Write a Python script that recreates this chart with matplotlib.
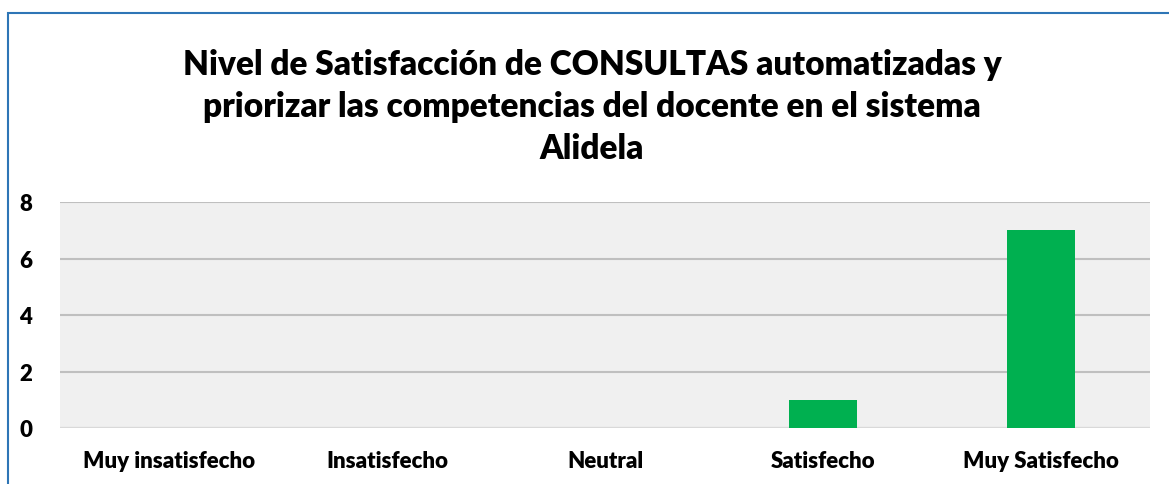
import matplotlib
matplotlib.use('Agg')
import matplotlib.pyplot as plt
import matplotlib.patheffects as pe
from matplotlib.patches import Rectangle

# Chart data
categories = ['Muy insatisfecho', 'Insatisfecho', 'Neutral', 'Satisfecho', 'Muy Satisfecho']
values = [0, 0, 0, 1, 7]
y_ticks = [0, 2, 4, 6, 8]
title = ('Nivel de Satisfacción de CONSULTAS automatizadas y\n'
         'priorizar las competencias del docente en el sistema\n'
         'Alidela')

plt.rcParams['font.family'] = ['Lato', 'DejaVu Sans']

fig = plt.figure(figsize=(11.69, 4.85), dpi=100)
fig.patch.set_facecolor('white')

# Outer chart border (blue, clipped by the image on right/bottom)
fig.add_artist(Rectangle((8 / 1169, -0.1), 1.2, 1 - 14 / 485 + 0.1,
                         transform=fig.transFigure, fill=False,
                         edgecolor='#2e75b6', linewidth=1.5))

ax = fig.add_axes([60 / 1169, 1 - 429 / 485, 1090 / 1169, 226 / 485])
ax.set_facecolor('#f0f0f0')

x = range(len(categories))
bars = ax.bar(x, values, width=0.31, color='#00b050', zorder=3)
for b in bars:
    b.set_path_effects([pe.SimplePatchShadow(offset=(0, -1), shadow_rgbFace='#777777', alpha=0.35),
                        pe.Normal()])

ax.set_xlim(-0.5, len(categories) - 0.5)
ax.set_ylim(0, 8)
ax.set_yticks(y_ticks)
ax.yaxis.grid(True, color='#bfbfbf', linewidth=1.5, zorder=1)
ax.axhline(0, color='#d9d9d9', linewidth=1.5, zorder=2)
for s in ax.spines.values():
    s.set_visible(False)

ax.set_xticks(list(x))
ax.set_xticklabels(categories, fontsize=16, fontweight='heavy')
ax.tick_params(axis='both', length=0)
ax.tick_params(axis='x', pad=16)
ax.tick_params(axis='y', pad=20)
for lbl in ax.get_yticklabels():
    lbl.set_fontsize(16)
    lbl.set_fontweight('heavy')

fig.text(592 / 1169, 1 - 107 / 485, title, ha='center', va='center',
         fontsize=24, fontweight='heavy', linespacing=1.38)

fig.savefig('out.png', dpi=100)
